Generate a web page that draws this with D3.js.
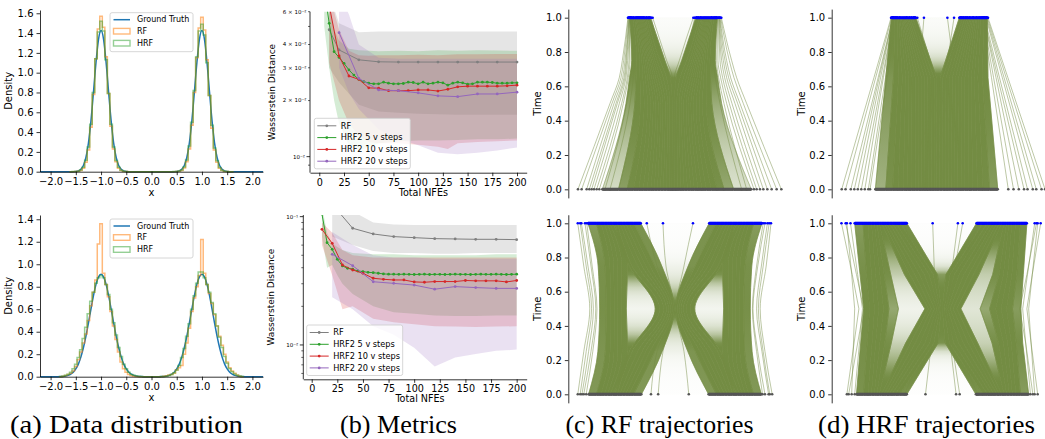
<!DOCTYPE html>
<html>
<head>
<meta charset="utf-8">
<script src="https://cdn.jsdelivr.net/npm/d3@7"></script>
<style>
  body { margin: 0; background: #fff; }
  svg { display: block; }
</style>
</head>
<body>
<svg id="fig" width="1045" height="439"></svg>
<script>
// ---------------- (a) data distribution ----------------
// ground truth density around one mode, offsets -0.6..0.6 (step 0.05), used at x=-1 and x=+1
var gtTopProfile = [0.0001, 0.0006, 0.0024, 0.0081, 0.0241, 0.0626, 0.1435, 0.289, 0.514, 0.803, 1.104, 1.337, 1.425,
  1.337, 1.104, 0.803, 0.514, 0.289, 0.1435, 0.0626, 0.0241, 0.0081, 0.0024, 0.0006, 0.0001];
// histogram heights, bins of 0.05 centred on -1.6..-0.4 and 0.4..1.6
var rfTopLeft = [0, 0, 0.001, 0.004, 0.012, 0.035, 0.095, 0.22, 0.45, 0.78, 1.14, 1.44, 1.57, 1.46, 1.16, 0.79, 0.46, 0.23, 0.1, 0.036, 0.012, 0.003, 0.001, 0, 0];
var rfTopRight = [0, 0, 0.001, 0.005, 0.013, 0.037, 0.1, 0.23, 0.47, 0.8, 1.15, 1.45, 1.56, 1.43, 1.13, 0.77, 0.44, 0.22, 0.095, 0.034, 0.011, 0.003, 0.001, 0, 0];
var hrfTopLeft = [0, 0.001, 0.002, 0.005, 0.016, 0.046, 0.115, 0.25, 0.48, 0.8, 1.14, 1.41, 1.52, 1.42, 1.13, 0.79, 0.48, 0.25, 0.112, 0.044, 0.015, 0.004, 0.001, 0, 0];
var hrfTopRight = [0, 0.001, 0.002, 0.006, 0.017, 0.047, 0.118, 0.26, 0.5, 0.82, 1.16, 1.42, 1.49, 1.38, 1.1, 0.77, 0.47, 0.24, 0.11, 0.043, 0.014, 0.004, 0.001, 0, 0];

// offsets -0.9..0.9 (step 0.05)
var gtBotProfile = [0.0002, 0.0005, 0.0012, 0.0027, 0.0058, 0.0116, 0.0221, 0.04, 0.0688, 0.112, 0.174, 0.257, 0.359,
  0.477, 0.602, 0.721, 0.821, 0.887, 0.91, 0.887, 0.821, 0.721, 0.602, 0.477, 0.359, 0.257, 0.174, 0.112, 0.0688,
  0.04, 0.0221, 0.0116, 0.0058, 0.0027, 0.0012, 0.0005, 0.0002];
// bins of 0.05 centred on -1.8..-0.2 and 0.2..1.8
var rfBotLeft = [0, 0.005, 0.01, 0.02, 0.03, 0.05, 0.09, 0.15, 0.22, 0.3, 0.38, 0.5, 0.63, 0.75, 0.86, 1.18, 1.36,
  0.92, 0.82, 0.71, 0.58, 0.45, 0.33, 0.22, 0.13, 0.07, 0.04, 0.02, 0.01, 0.005, 0.002, 0, 0];
var rfBotRight = [0, 0.003, 0.008, 0.015, 0.02, 0.03, 0.06, 0.08, 0.1, 0.2, 0.3, 0.43, 0.58, 0.7, 0.8, 0.9, 1.22,
  0.92, 0.82, 0.74, 0.65, 0.55, 0.45, 0.36, 0.28, 0.2, 0.13, 0.08, 0.05, 0.03, 0.015, 0.005, 0];
var hrfBotLeft = [0.002, 0.005, 0.012, 0.022, 0.04, 0.07, 0.11, 0.17, 0.24, 0.34, 0.44, 0.56, 0.67, 0.75, 0.83, 0.88, 0.9,
  0.88, 0.82, 0.73, 0.6, 0.48, 0.37, 0.26, 0.18, 0.11, 0.07, 0.04, 0.02, 0.012, 0.006, 0.003, 0.001];
var hrfBotRight = [0.001, 0.002, 0.005, 0.01, 0.02, 0.035, 0.06, 0.1, 0.17, 0.25, 0.36, 0.47, 0.6, 0.72, 0.83, 0.93, 0.93,
  0.88, 0.82, 0.75, 0.66, 0.56, 0.45, 0.35, 0.26, 0.18, 0.12, 0.07, 0.045, 0.025, 0.012, 0.006, 0.002];

// ---------------- (b) metrics ----------------
var rfTopX = [10, 20, 40, 60, 80, 100, 120, 140, 160, 180, 200];
var rfTopY = [0.048, 0.0374, 0.0331, 0.0323, 0.0322, 0.0322, 0.0322, 0.0322, 0.0322, 0.0322, 0.0322];
var rfTopLo = [0.03, 0.025, 0.019, 0.0175, 0.0172, 0.017, 0.0169, 0.0168, 0.0168, 0.0168, 0.0168];
var rfTopHi = [0.075, 0.052, 0.0465, 0.047, 0.047, 0.047, 0.047, 0.047, 0.047, 0.047, 0.047];

var h5TopX = d3.range(5, 201, 5);
var h5TopY = [0.08, 0.052, 0.0366, 0.0341, 0.0317, 0.0292, 0.0274, 0.026, 0.0253, 0.0248, 0.0246, 0.0246, 0.0251, 0.0248,
  0.0246, 0.0246, 0.0247, 0.0251, 0.025, 0.0246, 0.0251, 0.0246, 0.0248, 0.0251, 0.0249, 0.0242, 0.0248, 0.0251, 0.0249,
  0.0245, 0.0246, 0.0251, 0.0251, 0.0251, 0.025, 0.0248, 0.0248, 0.0248, 0.0249, 0.0249];
var h5TopBandX = [5, 10, 15, 20, 30, 40, 50, 60, 80, 100, 120, 140, 160, 180, 200];
var h5TopLo = [0.05, 0.03, 0.02, 0.015, 0.0115, 0.0108, 0.0112, 0.0118, 0.0121, 0.0122, 0.0122, 0.0123, 0.0124, 0.0124, 0.0125];
var h5TopHi = [0.12, 0.065, 0.048, 0.042, 0.038, 0.0372, 0.037, 0.0368, 0.037, 0.0368, 0.0372, 0.037, 0.0372, 0.0371, 0.037];

var h10TopX = d3.range(10, 201, 10);
var h10TopY = [0.065, 0.0347, 0.0271, 0.026, 0.0234, 0.0233, 0.0226, 0.0226, 0.0226, 0.0228, 0.0228, 0.0225, 0.023, 0.0237,
  0.0239, 0.0239, 0.0239, 0.0239, 0.024, 0.0242];
var h10TopBandX = [10, 20, 30, 40, 50, 60, 80, 100, 120, 130, 140, 160, 180, 200];
var h10TopLo = [0.032, 0.02, 0.015, 0.013, 0.012, 0.0118, 0.0118, 0.0116, 0.0113, 0.011, 0.0118, 0.012, 0.0121, 0.0122];
var h10TopHi = [0.075, 0.048, 0.037, 0.035, 0.0348, 0.035, 0.035, 0.0352, 0.035, 0.0352, 0.0355, 0.0355, 0.0356, 0.0356];

var h20TopX = d3.range(20, 201, 20);
var h20TopY = [0.0463, 0.0263, 0.0228, 0.0226, 0.022, 0.0212, 0.021, 0.0217, 0.0217, 0.0222];
var h20TopBandX = [20, 30, 40, 60, 80, 100, 120, 140, 160, 180, 200];
var h20TopLo = [0.03, 0.022, 0.018, 0.014, 0.0125, 0.0115, 0.0105, 0.0103, 0.0105, 0.0108, 0.0112];
var h20TopHi = [0.075, 0.058, 0.04, 0.034, 0.0335, 0.0335, 0.0335, 0.0335, 0.0335, 0.0335, 0.0335];

var rfBotX = d3.range(20, 201, 20);
var rfBotY = [0.125, 0.0812, 0.0733, 0.0699, 0.0686, 0.0674, 0.067, 0.0666, 0.0666, 0.0662];
var rfBotLo = [0.07, 0.06, 0.054, 0.052, 0.052, 0.0515, 0.0515, 0.052, 0.052, 0.052];
var rfBotHi = [0.2, 0.11, 0.09, 0.087, 0.086, 0.086, 0.086, 0.086, 0.086, 0.086];

var h5BotX = d3.range(10, 201, 5);
var h5BotY = [0.105, 0.0627, 0.0556, 0.0465, 0.0413, 0.0396, 0.0389, 0.0377, 0.0373, 0.0368, 0.0366, 0.0362, 0.0358,
  0.0356, 0.0356, 0.0355, 0.0356, 0.0355, 0.0354, 0.0355, 0.0356, 0.0354, 0.0355, 0.0355, 0.0354, 0.0355, 0.0356,
  0.0355, 0.0355, 0.0354, 0.0355, 0.0356, 0.0355, 0.0355, 0.0356, 0.0355, 0.0354, 0.0355, 0.0356];
var h5BotBandX = [10, 15, 20, 25, 30, 40, 60, 80, 100, 120, 140, 160, 180, 200];
var h5BotLo = [0.07, 0.04, 0.042, 0.035, 0.03, 0.025, 0.02, 0.018, 0.0175, 0.017, 0.0168, 0.0168, 0.017, 0.017];
var h5BotHi = [0.12, 0.075, 0.062, 0.058, 0.055, 0.052, 0.051, 0.051, 0.05, 0.05, 0.05, 0.05, 0.051, 0.051];

var h10BotX = d3.range(10, 201, 10);
var h10BotY = [0.0797, 0.062, 0.042, 0.0384, 0.0362, 0.0331, 0.0325, 0.0321, 0.0321, 0.031, 0.0308, 0.0312, 0.0312,
  0.0312, 0.0318, 0.0316, 0.0316, 0.0316, 0.031, 0.0318];
var h10BotBandX = [10, 20, 30, 40, 60, 80, 100, 120, 140, 160, 180, 200];
var h10BotLo = [0.06, 0.035, 0.019, 0.02, 0.016, 0.015, 0.0145, 0.014, 0.0139, 0.0138, 0.0139, 0.014];
var h10BotHi = [0.09, 0.075, 0.055, 0.05, 0.048, 0.048, 0.048, 0.048, 0.048, 0.048, 0.048, 0.048];

var h20BotX = d3.range(20, 201, 20);
var h20BotY = [0.0509, 0.0415, 0.0311, 0.0302, 0.0293, 0.0272, 0.0285, 0.028, 0.0276, 0.0276];
var h20BotLo = [0.0235, 0.019, 0.014, 0.012, 0.0095, 0.0068, 0.008, 0.0085, 0.009, 0.0092];
var h20BotHi = [0.076, 0.06, 0.05, 0.048, 0.048, 0.047, 0.047, 0.047, 0.047, 0.047];

var metricNames = ["RF", "HRF2 5 v steps", "HRF2 10 v steps", "HRF2 20 v steps"];
var metricColors = ["#7f7f7f", "#2ca02c", "#d62728", "#9467bd"];
var topLogTicks = [[0.009, ""], [0.01, "10⁻²"], [0.02, "2 × 10⁻²"], [0.03, "3 × 10⁻²"], [0.04, "4 × 10⁻²"], [0.05, ""], [0.06, "6 × 10⁻²"]];
var botLogTicks = [[0.006, ""], [0.007, ""], [0.008, ""], [0.009, ""], [0.01, "10⁻²"], [0.02, ""], [0.03, ""], [0.04, ""],
  [0.05, ""], [0.06, ""], [0.07, ""], [0.08, ""], [0.09, ""], [0.1, "10⁻¹"]];

// ---------------- (c)/(d) trajectories ----------------
// sorted positions of sampled trajectories at given times (quantile lines), plus stray single lines
var cTopTimes = [0, 0.5, 0.65, 0.75, 1];
var cTopT0 = [-2.13, -1.645, -1.383, -1.192, -1.036, -0.903, -0.783, -0.674, -0.573, -0.477, -0.385, -0.297, -0.21, -0.126, -0.042,
  0.046, 0.139, 0.231, 0.327, 0.424, 0.525, 0.63, 0.741, 0.861, 0.993, 1.14, 1.311, 1.521, 1.81, 2.34];
var cTopT50 = [-1.42, -1.152, -0.99, -0.875, -0.775, -0.685, -0.603, -0.527, -0.453, -0.382, -0.31, -0.242, -0.172, -0.103, -0.034,
  0.034, 0.103, 0.172, 0.242, 0.31, 0.382, 0.453, 0.527, 0.603, 0.685, 0.775, 0.875, 0.99, 1.152, 1.45];
var cTopT65 = [-1.314, -1.114, -1.0, -0.914, -0.84, -0.773, -0.711, -0.65, -0.589, -0.527, -0.46, -0.39, -0.305, -0.205, -0.09,
  0.09, 0.205, 0.305, 0.39, 0.46, 0.527, 0.589, 0.65, 0.711, 0.773, 0.84, 0.914, 1.0, 1.114, 1.33];
var cTopT75 = [-1.247, -1.097, -1.012, -0.947, -0.892, -0.842, -0.796, -0.75, -0.704, -0.658, -0.608, -0.553, -0.488, -0.403, -0.253,
  0.253, 0.403, 0.488, 0.553, 0.608, 0.658, 0.704, 0.75, 0.796, 0.842, 0.892, 0.947, 1.012, 1.097, 1.26];
var cTopT100 = [-1.31, -1.218, -1.164, -1.124, -1.089, -1.058, -1.029, -1.0, -0.971, -0.942, -0.911, -0.876, -0.836, -0.782, -0.688,
  0.68, 0.78, 0.836, 0.876, 0.911, 0.942, 0.971, 1.0, 1.029, 1.058, 1.089, 1.124, 1.164, 1.218, 1.32];
var cTopStray = [[-2.86, -1.9, -1.62, -1.53, -1.36], [-2.75, -1.84, -1.57, -1.49, -1.35], [-2.6, -1.78, -1.52, -1.45, -1.33],
  [-2.52, -1.72, -1.48, -1.42, -1.33], [-2.45, -1.68, -1.45, -1.4, -1.32], [-2.38, -1.62, -1.42, -1.37, -1.31],
  [-2.3, -1.55, -1.38, -1.33, -1.3], [-2.22, -1.5, -1.35, -1.3, -1.3], [-2.05, -1.4, -1.28, -1.23, -1.28],
  [-1.9, -1.3, -1.2, -1.16, -1.24],
  [3.24, 2.2, 1.9, 1.75, 1.44], [3.1, 2.1, 1.82, 1.68, 1.42], [2.95, 2.0, 1.72, 1.6, 1.4], [2.82, 1.93, 1.66, 1.55, 1.39],
  [2.7, 1.85, 1.6, 1.5, 1.38], [2.6, 1.76, 1.54, 1.45, 1.37], [2.5, 1.68, 1.48, 1.4, 1.36], [2.42, 1.6, 1.42, 1.34, 1.34],
  [2.2, 1.52, 1.36, 1.3, 1.33], [2.05, 1.4, 1.26, 1.2, 1.28],
  [-0.02, -0.01, -0.03, -0.2, -0.62], [0.02, 0.01, 0.03, 0.18, 0.6], [-0.06, -0.05, -0.1, -0.32, -0.66],
  [0.06, 0.05, 0.1, 0.3, 0.64], [-0.1, -0.08, -0.14, -0.36, -0.68], [0.1, 0.08, 0.14, 0.34, 0.66]];

var cBotTimes = [0, 0.25, 0.5, 0.75, 1];
var cBotT0 = [-1.44, -1.308, -1.232, -1.175, -1.126, -1.082, -1.04, -1.0, -0.96, -0.918, -0.874, -0.825, -0.768, -0.692, -0.56,
  0.56, 0.692, 0.768, 0.825, 0.874, 0.918, 0.96, 1.0, 1.04, 1.082, 1.126, 1.175, 1.232, 1.308, 1.44];
var cBotT25 = [-1.285, -1.16, -1.082, -1.016, -0.952, -0.882, -0.789, -0.76, -0.711, -0.618, -0.548, -0.484, -0.418, -0.34, -0.215,
  0.215, 0.34, 0.418, 0.484, 0.548, 0.618, 0.711, 0.76, 0.789, 0.882, 0.952, 1.016, 1.082, 1.16, 1.285];
var cBotT50 = [-1.255, -1.143, -1.073, -1.014, -0.957, -0.894, -0.811, -0.33, -0.255, -0.189, -0.143, -0.106, -0.073, -0.043, -0.014,
  0.014, 0.043, 0.073, 0.106, 0.143, 0.189, 0.255, 0.33, 0.811, 0.894, 0.957, 1.014, 1.073, 1.143, 1.255];
var cBotT75 = [-1.28, -1.165, -1.085, -1.02, -0.955, -0.885, -0.792, -0.762, -0.715, -0.62, -0.55, -0.486, -0.42, -0.342, -0.22,
  0.22, 0.342, 0.42, 0.486, 0.55, 0.62, 0.715, 0.762, 0.792, 0.885, 0.955, 1.02, 1.085, 1.165, 1.28];
var cBotT100 = [-1.45, -1.31, -1.235, -1.178, -1.128, -1.085, -1.042, -1.0, -0.958, -0.916, -0.872, -0.822, -0.765, -0.69, -0.57,
  0.57, 0.69, 0.765, 0.822, 0.872, 0.916, 0.958, 1.0, 1.042, 1.085, 1.128, 1.178, 1.235, 1.31, 1.45];
var cBotStray = [[-1.62, -1.52, -1.42, -1.52, -1.62], [-1.58, -1.48, -1.39, -1.48, -1.58], [-1.55, -1.44, -1.36, -1.45, -1.56],
  [-1.52, -1.4, -1.32, -1.4, -1.5], [-1.48, -1.37, -1.3, -1.38, -1.47],
  [1.62, 1.5, 1.42, 1.52, 1.6], [1.58, 1.47, 1.39, 1.47, 1.57], [1.56, 1.45, 1.36, 1.44, 1.54],
  [1.5, 1.38, 1.3, 1.38, 1.5], [1.46, 1.36, 1.29, 1.36, 1.47],
  [-0.28, -0.2, -0.02, -0.15, -0.2], [-0.4, -0.3, -0.04, -0.3, -0.47], [0.23, 0.15, 0.02, 0.15, 0.3]];

var dTopTimes = [0, 0.65, 1];
var dTopT0 = [-1.8, -1.5, -1.3, -1.15, -1.0, -0.88, -0.77, -0.66, -0.56, -0.47, -0.38, -0.29, -0.2, -0.12, -0.04,
  0.04, 0.12, 0.2, 0.28, 0.37, 0.46, 0.55, 0.65, 0.75, 0.86, 0.98, 1.12, 1.28, 1.46, 1.7];
var dTopT65 = [-1.5, -1.28, -1.14, -1.03, -0.93, -0.84, -0.75, -0.66, -0.57, -0.48, -0.39, -0.3, -0.21, -0.12, -0.05,
  0.05, 0.13, 0.22, 0.31, 0.4, 0.49, 0.58, 0.67, 0.76, 0.85, 0.94, 1.03, 1.13, 1.26, 1.42];
var dTopT100 = [-1.34, -1.24, -1.18, -1.13, -1.09, -1.05, -1.02, -0.99, -0.96, -0.93, -0.89, -0.85, -0.8, -0.74, -0.64,
  0.6, 0.7, 0.76, 0.82, 0.87, 0.91, 0.95, 0.99, 1.03, 1.07, 1.11, 1.16, 1.22, 1.3, 1.4];
var dTopStray = [[-2.76, -1.84, -1.35], [-2.65, -1.79, -1.33], [-2.5, -1.72, -1.3], [-2.4, -1.69, -1.3], [-2.3, -1.65, -1.3],
  [-2.2, -1.6, -1.28], [-2.1, -1.57, -1.28], [-2.0, -1.51, -1.25], [-1.95, -1.46, -1.2],
  [3.05, 1.99, 1.42], [2.95, 1.94, 1.4], [2.8, 1.88, 1.38], [2.7, 1.83, 1.36], [2.55, 1.75, 1.32], [2.45, 1.7, 1.3],
  [2.3, 1.65, 1.3], [2.15, 1.58, 1.28], [2.0, 1.52, 1.26],
  [0.5, -0.28, -0.7], [0.2, -0.37, -0.68], [-0.5, 0.28, 0.7], [-0.2, 0.33, 0.62], [0.9, -0.08, -0.6], [-0.9, 0.1, 0.65],
  [-0.8, -0.55, -0.41], [0.9, 0.48, 0.26], [-0.3, 0.19, 0.45]];

var dBotTimes = [0, 0.3, 0.5, 0.7, 1];
var dBotT0 = [-1.42, -1.3, -1.228, -1.172, -1.124, -1.08, -1.04, -1.0, -0.96, -0.92, -0.876, -0.828, -0.772, -0.7, -0.58,
  0.57, 0.69, 0.765, 0.822, 0.872, 0.918, 0.96, 1.0, 1.04, 1.082, 1.128, 1.178, 1.236, 1.31, 1.45];
var dBotT30 = [-1.35, -1.24, -1.16, -1.1, -1.03, -0.95, -0.84, -0.6, -0.52, -0.44, -0.36, -0.28, -0.2, -0.13, -0.06,
  0.06, 0.13, 0.2, 0.28, 0.36, 0.44, 0.52, 0.6, 0.84, 0.95, 1.03, 1.1, 1.16, 1.24, 1.35];
var dBotT50 = [-1.3, -1.2, -1.12, -1.05, -0.97, -0.88, -0.72, -0.28, -0.22, -0.17, -0.12, -0.08, -0.05, -0.03, -0.01,
  0.01, 0.04, 0.07, 0.1, 0.14, 0.19, 0.25, 0.32, 0.64, 0.8, 0.9, 0.99, 1.08, 1.18, 1.32];
var dBotT70 = [-1.36, -1.25, -1.17, -1.1, -1.03, -0.96, -0.85, -0.62, -0.53, -0.45, -0.37, -0.29, -0.21, -0.14, -0.07,
  0.07, 0.14, 0.21, 0.29, 0.37, 0.45, 0.53, 0.62, 0.85, 0.96, 1.03, 1.1, 1.17, 1.25, 1.36];
var dBotT100 = [-1.45, -1.31, -1.23, -1.17, -1.12, -1.08, -1.04, -1.0, -0.96, -0.92, -0.87, -0.82, -0.76, -0.69, -0.58,
  0.58, 0.69, 0.76, 0.82, 0.87, 0.92, 0.96, 1.0, 1.04, 1.08, 1.12, 1.17, 1.23, 1.31, 1.42];
var dBotStray = [[-1.58, -1.46, -1.38, -1.49, -1.67], [-1.55, -1.4, -1.3, -1.42, -1.6], [-1.5, -1.47, -1.45, -1.5, -1.58],
  [-1.45, -1.37, -1.32, -1.4, -1.52],
  [1.6, 1.49, 1.42, 1.51, 1.65], [1.52, 1.4, 1.3, 1.42, 1.58], [1.55, 1.49, 1.45, 1.51, 1.6], [1.48, 1.4, 1.35, 1.43, 1.55],
  [-0.62, -0.25, 0.0, 0.25, 0.62], [-0.75, -0.31, -0.03, 0.26, 0.7], [-0.9, -0.38, -0.03, 0.33, 0.85],
  [0.6, 0.23, 0.02, -0.26, -0.64], [0.78, 0.33, -0.04, -0.34, -0.72], [0.95, 0.4, 0.0, -0.4, -0.9],
  [-0.27, -0.17, -0.1, -0.12, -0.15], [0.24, 0.14, 0.08, 0.16, 0.27], [0.3, 0.17, 0.1, 0.2, 0.35]];

var timeTicks = [0, 0.2, 0.4, 0.6, 0.8, 1.0];
var captions = ["(a) Data distribution", "(b) Metrics", "(c) RF trajectories", "(d) HRF trajectories"];

// ======================================================
var svg = d3.select("#fig");
var defs = svg.append("defs");
var FONT = "DejaVu Sans";
var olive = "#738c43";

function styleAxis(g, size) {
  g.attr("font-family", FONT).attr("font-size", size);
  g.selectAll("line").attr("stroke-width", 0.8);
  g.select(".domain").attr("stroke-width", 0.8);
}

function label(x, y, text, size, rotate) {
  var t = svg.append("text")
    .attr("font-family", FONT).attr("font-size", size)
    .attr("text-anchor", "middle")
    .text(text);
  if (rotate) t.attr("transform", "translate(" + x + "," + y + ") rotate(-90)");
  else t.attr("x", x).attr("y", y);
  return t;
}

// ---------- density panels ----------
function densityPanel(o) {
  var x = d3.scaleLinear().domain([-2.21, 2.21]).range([40, 263]);
  var y = d3.scaleLinear().domain([0, o.ymax]).range([o.bottom, o.top]);
  var g = svg.append("g");

  var half = (o.gt.length - 1) / 2;
  var gtPts = [[-2.21, 0]]
    .concat(o.gt.map(function(v, k) { return [-1 + (k - half) * 0.05, v]; }))
    .concat(o.gt.map(function(v, k) { return [1 + (k - half) * 0.05, v]; }))
    .concat([[2.21, 0]]);
  var line = d3.line().x(function(d) { return x(d[0]); }).y(function(d) { return y(d[1]); });

  g.append("path")
    .attr("d", line.curve(d3.curveMonotoneX)(gtPts))
    .attr("fill", "none").attr("stroke", "#1f77b4").attr("stroke-width", 1.5);

  // outline of a step histogram, two blocks of bins joined along the baseline
  function stepPts(left, right) {
    var pts = [];
    [[left, o.leftStart], [right, o.rightStart]].forEach(function(b) {
      var vals = b[0], e0 = b[1] - 0.025;
      pts.push([e0, 0]);
      vals.forEach(function(v, k) { pts.push([e0 + k * 0.05, v]); });
      pts.push([e0 + vals.length * 0.05, 0]);
    });
    return pts;
  }
  var step = d3.line().x(function(d) { return x(d[0]); }).y(function(d) { return y(d[1]); }).curve(d3.curveStepAfter);
  g.append("path").attr("d", step(stepPts(o.rfL, o.rfR)))
    .attr("fill", "none").attr("stroke", "#ff7f0e").attr("stroke-opacity", 0.55).attr("stroke-width", 1.5);
  g.append("path").attr("d", step(stepPts(o.hrfL, o.hrfR)))
    .attr("fill", "none").attr("stroke", "#2ca02c").attr("stroke-opacity", 0.5).attr("stroke-width", 1.5);

  var xa = g.append("g").attr("transform", "translate(0," + o.bottom + ")")
    .call(d3.axisBottom(x).tickValues(d3.range(-2, 2.01, 0.5)).tickFormat(d3.format(".1f")).tickSize(3.5).tickSizeOuter(0).tickPadding(2.5));
  styleAxis(xa, 10);
  var ya = g.append("g").attr("transform", "translate(40,0)")
    .call(d3.axisLeft(y).tickValues(o.yticks).tickFormat(d3.format(".1f")).tickSize(3.5).tickSizeOuter(0).tickPadding(3));
  styleAxis(ya, 10);
  label(12, (o.top + o.bottom) / 2, "Density", 10, true);
  label(151.5, o.bottom + 24, "x", 10);

  // legend
  var lg = g.append("g").attr("transform", "translate(110," + o.legTop + ")");
  lg.append("rect").attr("width", 83).attr("height", 39).attr("rx", 2)
    .attr("fill", "#fff").attr("fill-opacity", 0.8).attr("stroke", "#cccccc").attr("stroke-width", 0.8);
  var rows = [7, 18.5, 30.5];
  lg.append("line").attr("x1", 3.5).attr("x2", 20).attr("y1", rows[0]).attr("y2", rows[0])
    .attr("stroke", "#1f77b4").attr("stroke-width", 1.5);
  lg.append("rect").attr("x", 3.5).attr("y", rows[1] - 2.8).attr("width", 16.5).attr("height", 5.6)
    .attr("fill", "none").attr("stroke", "#ff7f0e").attr("stroke-opacity", 0.55).attr("stroke-width", 1.4);
  lg.append("rect").attr("x", 3.5).attr("y", rows[2] - 2.8).attr("width", 16.5).attr("height", 5.6)
    .attr("fill", "none").attr("stroke", "#2ca02c").attr("stroke-opacity", 0.5).attr("stroke-width", 1.4);
  ["Ground Truth", "RF", "HRF"].forEach(function(s, i) {
    lg.append("text").attr("x", 27).attr("y", rows[i]).attr("dy", "0.35em")
      .attr("font-family", FONT).attr("font-size", 8).text(s);
  });
}

densityPanel({ top: 10, bottom: 171.7, ymax: 1.633, gt: gtTopProfile, rfL: rfTopLeft, rfR: rfTopRight,
  hrfL: hrfTopLeft, hrfR: hrfTopRight, leftStart: -1.6, rightStart: 0.4, yticks: d3.range(0, 1.61, 0.2), legTop: 12.7 });
densityPanel({ top: 215, bottom: 376.7, ymax: 1.438, gt: gtBotProfile, rfL: rfBotLeft, rfR: rfBotRight,
  hrfL: hrfBotLeft, hrfR: hrfBotRight, leftStart: -1.8, rightStart: 0.2, yticks: d3.range(0, 1.41, 0.2), legTop: 219 });

// ---------- metric panels ----------
function metricPanel(o) {
  var x = d3.scaleLinear().domain(o.xDomain).range([o.left, o.right]);
  var y = d3.scaleLog().domain(o.yDomain).range([o.bottom, o.top]);
  var g = svg.append("g");
  defs.append("clipPath").attr("id", o.id).append("rect")
    .attr("x", o.left).attr("y", o.top).attr("width", o.right - o.left).attr("height", o.bottom - o.top);
  var plot = g.append("g").attr("clip-path", "url(#" + o.id + ")");

  o.series.forEach(function(s, i) {
    var pts = s.bx.map(function(n, k) { return { n: n, lo: s.lo[k], hi: s.hi[k] }; });
    plot.append("path")
      .attr("d", d3.area().x(function(d) { return x(d.n); }).y0(function(d) { return y(d.lo); }).y1(function(d) { return y(d.hi); })(pts))
      .attr("fill", metricColors[i]).attr("fill-opacity", 0.2);
  });
  o.series.forEach(function(s, i) {
    var pts = s.x.map(function(n, k) { return { n: n, v: s.y[k] }; });
    plot.append("path")
      .attr("d", d3.line().x(function(d) { return x(d.n); }).y(function(d) { return y(d.v); })(pts))
      .attr("fill", "none").attr("stroke", metricColors[i]).attr("stroke-width", 1);
    plot.selectAll(null).data(pts).join("circle")
      .attr("cx", function(d) { return x(d.n); }).attr("cy", function(d) { return y(d.v); })
      .attr("r", 1.4).attr("fill", metricColors[i]);
  });

  var xa = g.append("g").attr("transform", "translate(0," + o.bottom + ")")
    .call(d3.axisBottom(x).tickValues(d3.range(0, 201, 25)).tickSize(3.5).tickSizeOuter(0).tickPadding(2.5));
  styleAxis(xa, 9.6);
  g.append("line").attr("x1", o.left).attr("x2", o.left).attr("y1", o.top).attr("y2", o.bottom)
    .attr("stroke", "#000").attr("stroke-width", 0.8);
  o.ticks.forEach(function(t) {
    var yy = y(t[0]);
    var major = t[0] == 0.01 || t[0] == 0.1;
    g.append("line").attr("x1", o.left).attr("x2", o.left - (major ? 3.5 : 2)).attr("y1", yy).attr("y2", yy)
      .attr("stroke", "#000").attr("stroke-width", major ? 0.8 : 0.6);
    if (t[1]) g.append("text").attr("x", o.left - (major ? 5 : 3.5)).attr("y", yy).attr("dy", "0.35em")
      .attr("text-anchor", "end").attr("font-family", FONT).attr("font-size", 5.5).text(t[1]);
  });
  label((o.left + o.right) / 2 + 5, o.bottom + o.xlabDy, "Total NFEs", 9.6);
  label(o.ylabX, (o.top + o.bottom) / 2, "Wasserstein Distance", 9, true);

  var lg = g.append("g").attr("transform", "translate(" + o.leg[0] + "," + o.leg[1] + ")");
  lg.append("rect").attr("width", 96).attr("height", 50.5).attr("rx", 2)
    .attr("fill", "#fff").attr("fill-opacity", 0.8).attr("stroke", "#cccccc").attr("stroke-width", 0.8);
  metricNames.forEach(function(s, i) {
    var yy = 7.5 + i * 11.8;
    lg.append("line").attr("x1", 3).attr("x2", 22).attr("y1", yy).attr("y2", yy)
      .attr("stroke", metricColors[i]).attr("stroke-width", 1);
    lg.append("circle").attr("cx", 12.5).attr("cy", yy).attr("r", 1.4).attr("fill", metricColors[i]);
    lg.append("text").attr("x", 26.5).attr("y", yy).attr("dy", "0.35em")
      .attr("font-family", FONT).attr("font-size", 8.2).text(s);
  });
}

metricPanel({ id: "clipB1", left: 310, right: 526.7, top: 11.7, bottom: 172.7, xDomain: [-9.4, 209.8], yDomain: [0.0082, 0.06],
  ticks: topLogTicks, ylabX: 275, xlabDy: 23.5, leg: [314.3, 118.3],
  series: [
    { x: rfTopX, y: rfTopY, bx: rfTopX, lo: rfTopLo, hi: rfTopHi },
    { x: h5TopX, y: h5TopY, bx: h5TopBandX, lo: h5TopLo, hi: h5TopHi },
    { x: h10TopX, y: h10TopY, bx: h10TopBandX, lo: h10TopLo, hi: h10TopHi },
    { x: h20TopX, y: h20TopY, bx: h20TopBandX, lo: h20TopLo, hi: h20TopHi }
  ] });
metricPanel({ id: "clipB2", left: 303.3, right: 526.7, top: 215, bottom: 379.3, xDomain: [-8.2, 209.8], yDomain: [0.0054, 0.103],
  ticks: botLogTicks, ylabX: 274, xlabDy: 22.5, leg: [306.7, 325],
  series: [
    { x: rfBotX, y: rfBotY, bx: rfBotX, lo: rfBotLo, hi: rfBotHi },
    { x: h5BotX, y: h5BotY, bx: h5BotBandX, lo: h5BotLo, hi: h5BotHi },
    { x: h10BotX, y: h10BotY, bx: h10BotBandX, lo: h10BotLo, hi: h10BotHi },
    { x: h20BotX, y: h20BotY, bx: h20BotX, lo: h20BotLo, hi: h20BotHi }
  ] });

// ---------- trajectory panels ----------
// how dark a band between two neighbouring lines looks, from its width in px
function dens(w) { return 1 - Math.exp(-Math.pow(11 / Math.max(w, 0.3), 2.5)); }

function trajPanel(o) {
  var x = d3.scaleLinear().domain(o.xDomain).range([o.left, o.right]);
  var y = d3.scaleLinear().domain([-0.05, 1.05]).range([o.bottom, o.top]);
  var g = svg.append("g");
  var N = o.pos[0].length;
  var area = d3.area().curve(o.curve)
    .y(function(d) { return y(d.t); })
    .x0(function(d) { return x(d.a); })
    .x1(function(d) { return x(d.b); });
  var shadeT = d3.range(0, 1.0001, 0.025);

  for (var i = 0; i < N - 1; i++) {
    var pts = o.times.map(function(t, j) { return { t: t, a: o.pos[j][i], b: o.pos[j][i + 1] }; });
    var width = d3.scaleLinear().domain(o.times).range(pts.map(function(p) { return Math.abs(x(p.b) - x(p.a)); }));
    var id = o.id + "-" + i;
    var grad = defs.append("linearGradient").attr("id", id).attr("gradientUnits", "userSpaceOnUse")
      .attr("x1", 0).attr("y1", y(0)).attr("x2", 0).attr("y2", y(1));
    shadeT.forEach(function(t) {
      grad.append("stop").attr("offset", t).attr("stop-color", olive).attr("stop-opacity", dens(width(t)));
    });
    g.append("path").attr("d", area(pts)).attr("fill", "url(#" + id + ")")
      .attr("stroke", "url(#" + id + ")").attr("stroke-width", 0.7);
  }

  var line = d3.line().curve(o.curve).x(function(d) { return x(d.x); }).y(function(d) { return y(d.t); });
  var quant = d3.range(N).map(function(i) { return o.times.map(function(t, j) { return { t: t, x: o.pos[j][i] }; }); });
  var stray = o.stray.map(function(f) { return o.times.map(function(t, j) { return { t: t, x: f[j] }; }); });
  g.append("g").selectAll("path").data(quant).join("path")
    .attr("d", line).attr("fill", "none").attr("stroke", olive).attr("stroke-width", 0.8).attr("stroke-opacity", 0.4);
  g.append("g").selectAll("path").data(stray).join("path")
    .attr("d", line).attr("fill", "none").attr("stroke", olive).attr("stroke-width", 0.95).attr("stroke-opacity", 0.5);

  var last = o.times.length - 1;
  [[0, "#555555"], [last, "#0000ff"]].forEach(function(e) {
    var j = e[0], col = e[1], tv = o.times[j], xs = o.pos[j];
    for (var i = 0; i < N - 1; i++) {
      var a = x(xs[i]), b = x(xs[i + 1]);
      if (Math.abs(b - a) < 18) {
        g.append("rect").attr("x", Math.min(a, b)).attr("width", Math.abs(b - a))
          .attr("y", y(tv) - 1.6).attr("height", 3.2).attr("fill", col);
      }
    }
    var all = xs.concat(o.stray.map(function(f) { return f[j]; }));
    g.selectAll(null).data(all).join("circle")
      .attr("cx", function(d) { return x(d); }).attr("cy", y(tv)).attr("r", 1.3).attr("fill", col);
  });

  var ya = g.append("g").attr("transform", "translate(" + o.left + ",0)")
    .call(d3.axisLeft(y).tickValues(timeTicks).tickFormat(d3.format(".1f")).tickSize(3.5).tickSizeOuter(0).tickPadding(3));
  styleAxis(ya, 10);
  label(o.left - 27, (y(0) + y(1)) / 2, "Time", 10, true);
}

trajPanel({ id: "ct", left: 568.3, right: 790, top: 9.1, bottom: 197.9, xDomain: [-3.15, 3.5], curve: d3.curveMonotoneY,
  times: cTopTimes, pos: [cTopT0, cTopT50, cTopT65, cTopT75, cTopT100], stray: cTopStray });
trajPanel({ id: "cb", left: 568.3, right: 790, top: 214.75, bottom: 402.85, xDomain: [-1.778, 1.917], curve: d3.curveMonotoneY,
  times: cBotTimes, pos: [cBotT0, cBotT25, cBotT50, cBotT75, cBotT100], stray: cBotStray });
trajPanel({ id: "dt", left: 831.7, right: 1054, top: 9.1, bottom: 197.9, xDomain: [-3.046, 3.306], curve: d3.curveLinear,
  times: dTopTimes, pos: [dTopT0, dTopT65, dTopT100], stray: dTopStray });
trajPanel({ id: "db", left: 831.7, right: 1054, top: 214.75, bottom: 402.85, xDomain: [-1.833, 1.872], curve: d3.curveLinear,
  times: dBotTimes, pos: [dBotT0, dBotT30, dBotT50, dBotT70, dBotT100], stray: dBotStray });

// ---------- captions ----------
var capX = [126.5, 398.5, 659.5, 926.5];
var capW = [233, 117, 188, 217];
captions.forEach(function(c, i) {
  svg.append("text").attr("x", capX[i]).attr("y", 433).attr("text-anchor", "middle")
    .attr("font-family", "Liberation Serif").attr("font-size", 25)
    .attr("textLength", capW[i]).attr("lengthAdjust", "spacingAndGlyphs").text(c);
});
</script>
</body>
</html>
